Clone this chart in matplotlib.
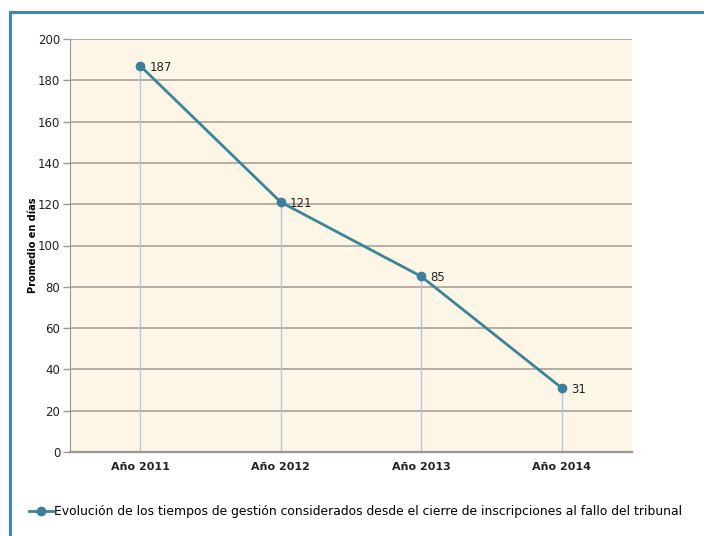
import matplotlib
matplotlib.use("Agg")
import matplotlib.pyplot as plt
from matplotlib.patches import Rectangle
from matplotlib.lines import Line2D

categories = ["Año 2011", "Año 2012", "Año 2013", "Año 2014"]
values = [187, 121, 85, 31]
series_name = "Evolución de los tiempos de gestión considerados desde el cierre de inscripciones al fallo del tribunal"
y_label = "Promedio en días"
y_ticks = [0, 20, 40, 60, 80, 100, 120, 140, 160, 180, 200]

W, H = 704, 536
fig = plt.figure(figsize=(W / 100, H / 100), dpi=100)
fig.patch.set_facecolor("white")

# outer frame
frame = Rectangle((9.5 / W, -0.05), 1.2, (H - 12.5) / H + 0.05, transform=fig.transFigure,
                  fill=False, edgecolor="#3d8ba6", linewidth=2.2, clip_on=False)
fig.patches.append(frame)

ax = fig.add_axes([70 / W, (H - 452) / H, (632 - 70) / W, (452 - 39) / H])
ax.set_facecolor("#fdf5e6")
x = list(range(len(categories)))
ax.set_xlim(-0.5, len(categories) - 0.5)
ax.set_ylim(0, 200)
ax.set_yticks(y_ticks)
ax.set_yticklabels([str(t) for t in y_ticks], fontsize=8.5, color="#222222")
ax.set_xticks(x)
ax.set_xticklabels(categories, fontsize=8, fontweight="bold", color="#222222")
ax.tick_params(axis="x", length=0, pad=7)
ax.tick_params(axis="y", length=5, width=1, color="#999999", pad=2)

for t in y_ticks[1:]:
    ax.axhline(t, color="#a09a92", linewidth=1.1, zorder=1)

for s in ["top", "right"]:
    ax.spines[s].set_visible(False)
ax.spines["left"].set_color("#999999")
ax.spines["bottom"].set_color("#999999")
ax.spines["bottom"].set_linewidth(1.6)

# drop lines
ax.vlines(x, 0, values, colors="#b7c8e6", linewidth=1, zorder=2)

line_color = "#3a8596"
ax.plot(x, values, color=line_color, linewidth=2, marker="o", markersize=6,
        markerfacecolor="#3a7f9c", markeredgecolor="#3a7f9c", zorder=3)
for xi, v in zip(x, values):
    ax.annotate(str(v), (xi, v), xytext=(6.5, -1), textcoords="offset points",
                fontsize=8.5, color="#222222", va="center", ha="left", zorder=4)

ax.set_ylabel(y_label, fontsize=7, fontweight="bold", labelpad=0)

handle = Line2D([], [], color=line_color, linewidth=2, marker="o", markersize=6,
                markerfacecolor="#3a7f9c", markeredgecolor="#3a7f9c")
fig.legend([handle], [series_name], loc="center left", bbox_to_anchor=(29 / W, (H - 512) / H),
           frameon=False, fontsize=8.95, handlelength=1.9, handletextpad=0.1, borderpad=0,
           borderaxespad=0)

fig.savefig("out.png", dpi=100)
